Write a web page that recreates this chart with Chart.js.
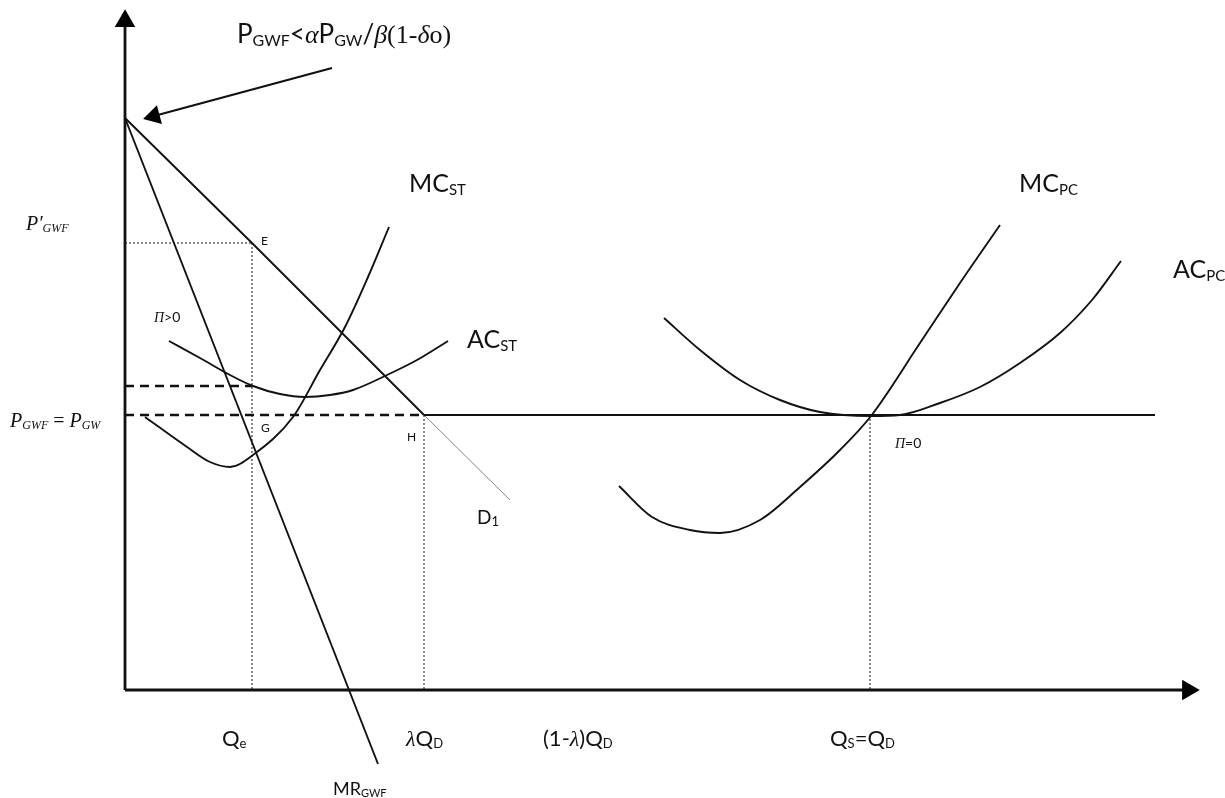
<!DOCTYPE html>
<html>
<head>
<meta charset="utf-8">
<script src="https://cdn.jsdelivr.net/npm/chart.js@4"></script>
<style>
  body { margin: 0; background: #fff; }
  #wrap { width: 1225px; height: 798px; }
</style>
</head>
<body>
<div id="wrap"><canvas id="graf"></canvas></div>
<script>
// price levels and quantities (origin of the axes = 0,0)
const priceTop = 572;
const priceE = 447;
const priceACst = 304;
const priceGW = 275;
const qE = 127;
const qH = 299;
const qS = 745;
const xEnd = 1030;

const demandTail = [[299, 275], [385, 190]];
const mrGWF = [[0, 572], [253, -74]];
const mcST = [[20, 273], [62, 243], [85, 228], [105, 223], [128, 235], [168, 273], [195, 320], [220, 363], [243, 413], [264, 463]];
const acST = [[44, 349], [75, 332], [105, 315], [128, 304], [155, 296], [180, 293], [205, 295], [228, 300], [262, 315], [292, 330], [323, 349]];
const mcPC = [[494, 204], [527, 173], [565, 160], [595, 157], [635, 170], [675, 203], [715, 240], [746, 274], [795, 347], [835, 407], [875, 465]];
const acPC = [[539, 372], [575, 340], [615, 310], [655, 290], [695, 278], [746, 274], [775, 275], [815, 287], [855, 303], [895, 327], [935, 357], [967, 390], [996, 429]];
const pointer = [[207, 622], [29, 574]];

// text labels: anchor (left, baseline) and parts
const labels = [
    { x: 112, y: 647, size: 26, parts: [['P'], ['GWF', 's'], ['<'], ['α', 'g'], ['P'], ['GW', 's'], ['/'], ['β', 'g'], ['(1-', 'r'], ['δ', 'g'], ['o)', 'r']] },
    { x: 284, y: 498, size: 25, parts: [['MC'], ['ST', 's']] },
    { x: 342, y: 342, size: 25, parts: [['AC'], ['ST', 's']] },
    { x: 894, y: 498, size: 25, parts: [['MC'], ['PC', 's']] },
    { x: 1048, y: 412, size: 25, parts: [['AC'], ['PC', 's']] },
    { x: -99, y: 460, size: 20, parts: [['P′', 'i'], ['GWF', 'is']] },
    { x: -115, y: 263, size: 20, parts: [['P', 'i'], ['GWF', 'is'], [' = ', 'r'], ['P', 'i'], ['GW', 'is']] },
    { x: 29, y: 368, size: 14, parts: [['Π', 'g'], ['>0']] },
    { x: 136, y: 445, size: 12, parts: [['E']] },
    { x: 136, y: 258, size: 12, parts: [['G']] },
    { x: 282, y: 249, size: 12, parts: [['H']] },
    { x: 352, y: 166, size: 19, parts: [['D'], ['1', 'b']] },
    { x: 770, y: 242, size: 14, parts: [['Π', 'g'], ['=0']] },
    { x: 97, y: -56, size: 22, parts: [['Q'], ['e', 's']] },
    { x: 281, y: -56, size: 22, parts: [['λ', 'g'], ['Q'], ['D', 's']] },
    { x: 418, y: -56, size: 22, parts: [['(1-'], ['λ', 'g'], [')Q'], ['D', 's']] },
    { x: 705, y: -56, size: 22, parts: [['Q'], ['S', 's'], ['=Q'], ['D', 's']] },
    { x: 208, y: -105, size: 18, parts: [['MR'], ['GWF', 's']] }
];

const pts = a => a.map(([x, y]) => ({ x, y }));

function linija(data, extra) {
    return Object.assign({
        data: pts(data),
        showLine: true,
        borderColor: '#111',
        borderWidth: 1.6,
        pointRadius: 0,
        tension: 0,
        fill: false
    }, extra || {});
}

const krivulja = { cubicInterpolationMode: 'monotone', borderWidth: 1.9 };
const tockice = { borderWidth: 1, borderDash: [2, 2], borderColor: '#111' };
const crtice = { borderWidth: 2.6, borderDash: [9, 6] };
const strelica = { pointStyle: 'triangle', pointRadius: [0, 9], pointBackgroundColor: '#000', pointBorderColor: '#000' };

const datasets = [
    // axes with arrow heads
    linija([[0, 0], [0, 669]], Object.assign({ borderWidth: 2.8, rotation: 0 }, strelica)),
    linija([[0, 0], [1063, 0]], Object.assign({ borderWidth: 2.8, rotation: 90 }, strelica)),
    // pointer to the top of demand
    linija(pointer, Object.assign({ borderWidth: 2.2, rotation: 255 }, strelica)),
    // guides
    linija([[0, priceE], [qE, priceE]], tockice),
    linija([[qE, priceE], [qE, 0]], tockice),
    linija([[qH, priceGW], [qH, 0]], tockice),
    linija([[qS, priceGW], [qS, 0]], tockice),
    linija([[0, priceACst], [qE, priceACst]], crtice),
    linija([[0, priceGW], [qH, priceGW]], crtice),
    linija([[qH, priceGW], [xEnd, priceGW]], { borderWidth: 1.9 }),
    // demand and marginal revenue
    linija([[0, priceTop], [qE, priceE], [qH, priceGW]], { borderWidth: 1.9 }),
    linija(demandTail, { borderWidth: 1, borderColor: '#888' }),
    linija(mrGWF, { borderWidth: 1.9 }),
    // cost curves
    linija(mcST, krivulja),
    linija(acST, krivulja),
    linija(mcPC, krivulja),
    linija(acPC, krivulja)
];

const tekstovi = {
    id: 'tekstovi',
    afterDatasetsDraw(chart) {
        const ctx = chart.ctx;
        const sx = chart.scales.x, sy = chart.scales.y;
        ctx.save();
        ctx.fillStyle = '#111';
        ctx.textBaseline = 'alphabetic';
        labels.forEach(l => {
            let cx = sx.getPixelForValue(l.x);
            const by = sy.getPixelForValue(l.y);
            l.parts.forEach(([t, st]) => {
                st = st || '';
                const sub = st.includes('s') || st === 'b';
                const fs = sub ? Math.round(l.size * (st === 'b' ? 0.7 : 0.6)) : l.size;
                let font = `${fs}px Lato`;
                if (st === 'g') font = `italic ${fs}px "Liberation Serif"`;
                else if (st === 'r') font = `${fs}px "Liberation Serif"`;
                else if (st.includes('i')) font = `italic ${fs}px "Liberation Serif"`;
                ctx.font = font;
                ctx.fillText(t, cx, by + (sub ? l.size * 0.1 : 0));
                cx += ctx.measureText(t).width;
            });
        });
        ctx.restore();
    }
};

new Chart(document.getElementById('graf').getContext('2d'), {
    type: 'scatter',
    data: { datasets: datasets },
    options: {
        responsive: true,
        maintainAspectRatio: false,
        animation: false,
        layout: { padding: 0, autoPadding: false },
        plugins: { legend: { display: false }, tooltip: { enabled: false } },
        scales: {
            x: { type: 'linear', min: -125, max: 1100, display: false },
            y: { type: 'linear', min: -108, max: 690, display: false }
        }
    },
    plugins: [tekstovi]
});
</script>
</body>
</html>
